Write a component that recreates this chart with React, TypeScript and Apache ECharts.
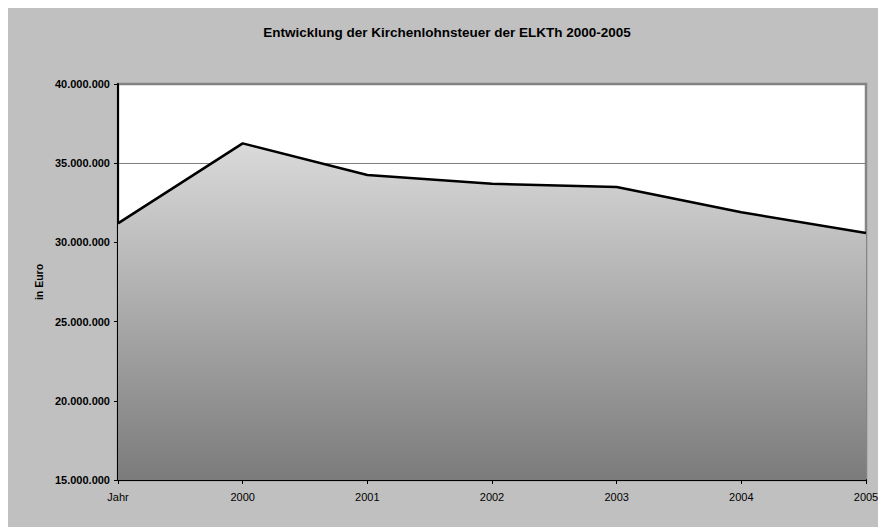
import React, { useEffect, useRef } from "react";
import * as echarts from "echarts";

const titleText = "Entwicklung der Kirchenlohnsteuer der ELKTh 2000-2005";
const categories = ["Jahr", "2000", "2001", "2002", "2003", "2004", "2005"];
const steuerValues = [31200000, 36250000, 34250000, 33700000, 33500000, 31900000, 30600000];
const yMin = 15000000;
const yMax = 40000000;
const yStep = 5000000;
const yAxisTitle = "in Euro";

const fmt = (v: number) => String(Math.round(v)).replace(/\B(?=(\d{3})+(?!\d))/g, ".");

export default function App() {
  const ref = useRef<HTMLDivElement>(null);
  useEffect(() => {
    if (!ref.current) return;
    const chart = echarts.init(ref.current, null, { renderer: "svg" });
    chart.setOption({
      animation: false,
      backgroundColor: "#c0c0c0",
      title: {
        text: titleText,
        left: "center",
        top: 12,
        textStyle: { fontFamily: "Arial, 'Liberation Sans', sans-serif", fontSize: 13.5, fontWeight: "bold", color: "#000" },
      },
      grid: {
        left: 110,
        right: 20,
        top: 76,
        bottom: 47,
        show: true,
        backgroundColor: "#ffffff",
        borderColor: "#858585",
        borderWidth: 2.5,
      },
      xAxis: {
        type: "category",
        data: categories,
        boundaryGap: false,
        axisLine: { show: true, lineStyle: { color: "#000", width: 2 } },
        axisTick: { show: true, length: 4, lineStyle: { color: "#000", width: 1 } },
        axisLabel: { color: "#000", fontSize: 11, fontFamily: "Arial, 'Liberation Sans', sans-serif", margin: 11 },
        splitLine: { show: false },
      },
      yAxis: {
        type: "value",
        min: yMin,
        max: yMax,
        interval: yStep,
        name: yAxisTitle,
        nameLocation: "middle",
        nameGap: 72,
        nameTextStyle: { color: "#000", fontSize: 10.5, fontWeight: "bold", fontFamily: "Arial, 'Liberation Sans', sans-serif" },
        axisLine: { show: true, lineStyle: { color: "#000", width: 2 } },
        axisTick: { show: true, length: 4, lineStyle: { color: "#000", width: 1 } },
        axisLabel: {
          color: "#000",
          fontSize: 11,
          fontWeight: "bold",
          fontFamily: "Arial, 'Liberation Sans', sans-serif",
          margin: 8,
          formatter: (v: number) => fmt(v),
        },
        splitLine: { show: true, lineStyle: { color: "#808080", width: 1 } },
      },
      series: [
        {
          type: "line",
          data: steuerValues,
          symbol: "none",
          lineStyle: { color: "#000", width: 2.5 },
          areaStyle: {
            origin: "start",
            opacity: 1,
            color: new echarts.graphic.LinearGradient(0, 0, 0, 1, [
              { offset: 0, color: "#dadada" },
              { offset: 1, color: "#7b7b7b" },
            ]),
          },
          z: 3,
        },
      ],
    });
    return () => chart.dispose();
  }, []);
  return <div ref={ref} style={{ width: 878, height: 519 }} />;
}
